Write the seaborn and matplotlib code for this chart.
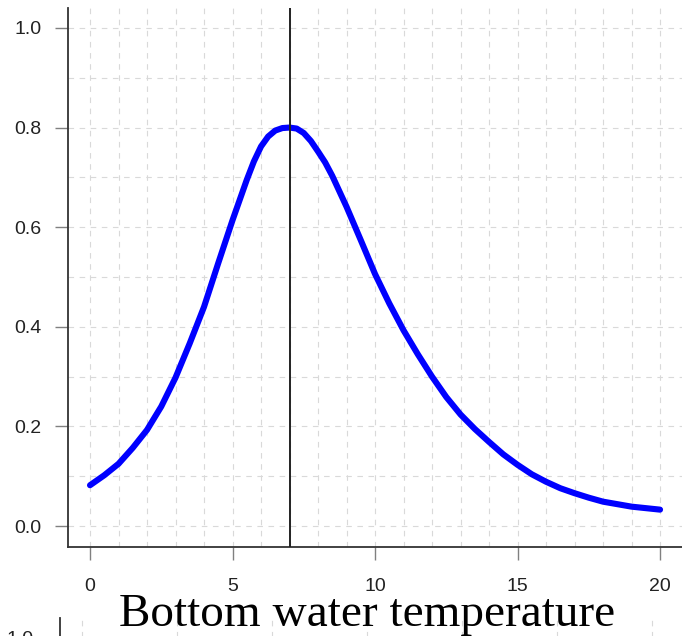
import matplotlib
matplotlib.use("Agg")
import matplotlib.pyplot as plt
import seaborn as sns
import pandas as pd
import numpy as np

# Data
temperature = [0, 0.5, 1, 1.5, 2, 2.5, 3, 3.5, 4, 4.5, 5, 5.5, 5.75, 6, 6.25, 6.5, 6.75, 7,
               7.25, 7.5, 7.75, 8, 8.25, 8.5, 9, 9.5, 10, 10.5, 11, 11.5, 12, 12.5, 13,
               13.5, 14, 14.5, 15, 15.5, 16, 16.5, 17, 17.5, 18, 19, 20]
response = [0.082, 0.102, 0.125, 0.157, 0.193, 0.24, 0.298, 0.367, 0.44, 0.528,
            0.614, 0.695, 0.732, 0.762, 0.782, 0.794, 0.799, 0.80,
            0.798, 0.789, 0.773, 0.752, 0.73, 0.703, 0.641, 0.574, 0.506, 0.447,
            0.393, 0.345, 0.30, 0.259, 0.224, 0.195, 0.169, 0.144, 0.123, 0.104,
            0.089, 0.076, 0.066, 0.057, 0.049, 0.039, 0.033]
optimum = 7
x_ticks = [0, 5, 10, 15, 20]
y_ticks = [0.0, 0.2, 0.4, 0.6, 0.8, 1.0]
y_labels = ["0.0", "0.2", "0.4", "0.6", "0.8", "1.0"]
title_text = "Bottom water temperature"

df = pd.DataFrame({"temperature": temperature, "response": response})

sns.set_theme(style="white")
plt.rcParams["font.family"] = ["Liberation Sans", "DejaVu Sans"]

W, H = 682, 636
fig = plt.figure(figsize=(W / 100, H / 100), dpi=100)

GRID = dict(color="#d9d9d9", linestyle=(0, (5, 5)), linewidth=0.8)

def style_axes(ax):
    for s in ["top", "right"]:
        ax.spines[s].set_visible(False)
    for s in ["left", "bottom"]:
        ax.spines[s].set_color("#333333")
        ax.spines[s].set_linewidth(1.3)
    ax.tick_params(axis="both", which="major", direction="out", length=9.5,
                   width=1.0, color="#808080", labelsize=14, labelcolor="#222222",
                   bottom=True, left=True)
    ax.tick_params(axis="x", pad=12.5)
    ax.tick_params(axis="y", pad=9.5)
    ax.tick_params(which="minor", length=0, bottom=False, left=False)
    ax.grid(True, which="both", **GRID)
    ax.set_axisbelow(True)

# Main panel
left, top, bottom = 68, 8, 547
ax = fig.add_axes([left / W, 1 - bottom / H, 1 - left / W, (bottom - top) / H])
sns.lineplot(data=df, x="temperature", y="response", ax=ax, color="#0000ff",
             linewidth=4.4, solid_capstyle="round", solid_joinstyle="round",
             sort=False, zorder=3)
ax.axvline(optimum, color="#222222", linewidth=1.4, zorder=4)
ax.set_xlim(-0.772, 20.77)
ax.set_ylim(-0.042, 1.040)
ax.set_xticks(x_ticks)
ax.set_yticks(y_ticks)
ax.set_yticklabels(y_labels)
ax.set_xticks(np.arange(0, 21, 1), minor=True)
ax.set_yticks(np.arange(0, 1.01, 0.1), minor=True)
ax.set_xlabel("")
ax.set_ylabel("")
style_axes(ax)

# Title of the next panel
fig.text(366.7 / W, 1 - 626 / H, title_text, ha="center", va="baseline",
         fontsize=34, family=["Liberation Serif", "DejaVu Serif"], color="black")

# Next panel peeking in at the bottom
l2, t2 = 60, 618
ax2 = fig.add_axes([l2 / W, 1 - (t2 + 539) / H, 1 - l2 / W, 539 / H])
ax2.set_xlim(-0.228, 6.32)
ax2.set_ylim(-0.042, 1.040)
ax2.set_xticks([])
ax2.set_yticks([1.0])
ax2.set_yticklabels(["1.0"])
ax2.set_xticks(np.arange(0, 7, 1), minor=True)
ax2.set_yticks(np.arange(0, 1.01, 0.1), minor=True)
style_axes(ax2)
ax2.spines["bottom"].set_visible(False)
ax2.set_facecolor("none")

fig.savefig("out.png", dpi=100)
